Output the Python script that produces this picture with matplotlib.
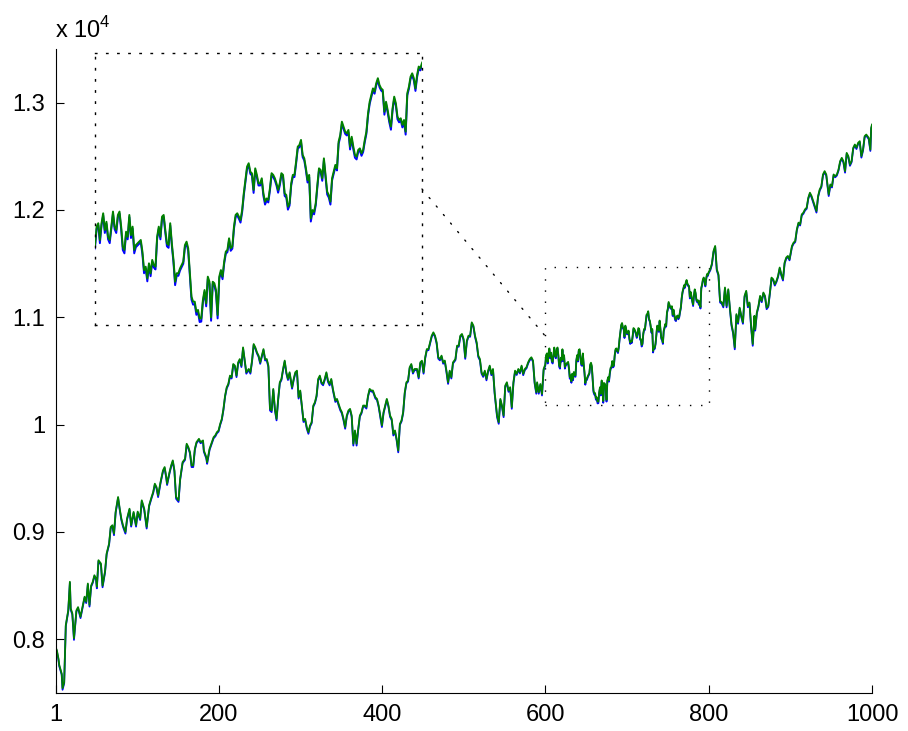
import matplotlib
matplotlib.use('Agg')
import matplotlib.pyplot as plt
from matplotlib.patches import Rectangle, ConnectionPatch
from matplotlib.ticker import FuncFormatter

plt.rcParams['font.family'] = ['Liberation Sans', 'DejaVu Sans']
plt.rcParams['mathtext.fontset'] = 'custom'
plt.rcParams['mathtext.rm'] = 'Liberation Sans'

# sample index (600..800)
t_a = [1, 2, 4, 5, 8, 9, 11, 12, 13, 16,
       18, 19, 21, 23, 26, 28, 31, 34, 36, 38,
       40, 42, 44, 46, 48, 50, 51, 53, 56, 58,
       61, 63, 66, 68, 70, 72, 74, 77, 79, 81,
       83, 86, 88, 91, 93, 96, 99, 101, 104, 106,
       109, 112, 115, 118, 120, 122, 124, 126, 129, 132,
       134, 136, 137, 140, 142, 144, 146, 148, 151, 153,
       156, 159, 161, 163, 165, 167, 169, 171, 173, 176,
       178, 181, 182, 185, 186, 189,
       194, 196, 198, 200, 202, 204, 206, 208, 210, 212,
       214, 216, 218, 220, 222, 224, 226, 228, 230, 232,
       234, 237, 239, 241, 243, 245, 247, 249, 251, 253,
       255, 257, 259, 261, 263, 265, 267, 269, 271, 273,
       275, 277, 279, 281, 283, 285, 287, 290, 292, 294,
       296, 298, 300, 302, 304, 306, 308, 310, 312, 314,
       316, 318, 320, 322, 324, 326, 328, 330, 332, 334,
       336, 338, 340, 343, 345, 347, 349, 351, 353, 355,
       357, 359, 361, 363, 365, 367, 369, 371,
       373, 375, 377, 379, 381, 383, 385, 387, 389, 392,
       394, 396, 398, 400, 402, 404, 406, 408, 410, 412,
       414, 416, 418, 420, 422, 424, 426, 428, 430, 432,
       434, 436, 438, 440, 443, 445, 447, 449, 451, 453,
       455, 457, 459, 461, 463, 465, 467, 469, 471, 473,
       475, 477, 479, 481, 483, 485, 487, 490, 492, 494,
       496, 498, 500, 502, 504, 506, 508, 510, 512, 514,
       516, 518, 520, 522, 524, 526, 528, 530, 532, 534,
       536, 538, 541, 543, 545, 547, 549, 551, 553, 555,
       557, 559, 561, 563, 565, 567, 569, 571, 573, 575,
       577, 579, 581, 583, 585, 587, 589, 590, 592, 594,
       596, 598]
t_b = list(range(600, 801))
t_c = [802, 804, 806, 808, 810, 812, 814, 816, 818, 820,
       822, 824, 826, 828, 830, 832, 834, 836, 838, 840,
       842, 844, 846, 848, 850, 852, 854, 856, 857, 859,
       861, 863, 865, 867, 869, 871, 873, 875, 877, 879,
       881, 883, 885, 887, 889, 891, 893, 895, 897, 899,
       902, 904, 906, 908, 910, 912, 914, 916, 918, 920,
       922, 924, 926, 928, 930, 932, 934, 936, 938, 940,
       942, 944, 947, 949, 951, 953, 955, 957, 959, 961,
       963, 965, 967, 969, 971, 973, 975, 977, 979, 981,
       983, 985, 987, 989, 991, 993, 996, 998, 999, 1000]

green_a = [7916, 7900, 7820, 7760, 7680, 7545, 7600, 7850, 8133, 8270,
           8536, 8288, 8242, 8010, 8270, 8300, 8211, 8320, 8397, 8350,
           8520, 8320, 8500, 8536, 8597, 8567, 8490, 8737, 8706, 8500,
           8632, 8800, 8892, 9047, 9063, 8985, 9187, 9326, 9217, 9125,
           9063, 9000, 9125, 9217, 9063, 9187, 9063, 9190, 9125, 9295,
           9217, 9047, 9249, 9326, 9373, 9450, 9419, 9340, 9466, 9574,
           9605, 9512, 9450, 9558, 9620, 9667, 9574, 9326, 9295, 9496,
           9651, 9682, 9822, 9791, 9744, 9620, 9620, 9775, 9837, 9868,
           9837, 9853, 9760, 9698, 9650, 9775,
           9884, 9900, 9930, 9945, 10007, 10054, 10147, 10270, 10348, 10380,
           10457, 10442, 10565, 10550, 10457, 10580, 10611, 10550, 10720, 10600,
           10488, 10519, 10488, 10597, 10751, 10720, 10674, 10643, 10580, 10643,
           10704, 10611, 10611, 10550, 10147, 10132, 10333, 10147, 10054, 10240,
           10395, 10426, 10519, 10597, 10488, 10426, 10488, 10348, 10426, 10488,
           10503, 10256, 10318, 10178, 10039, 10054, 9977, 9930, 9992, 10023,
           10178, 10209, 10271, 10426, 10457, 10395, 10379, 10426, 10488, 10410,
           10379, 10426, 10333, 10225, 10240, 10193, 10147, 10116, 10054, 9977,
           10085, 10132, 10147, 10085, 9822, 9946, 9822, 9961,
           10085, 10115, 10178, 10178, 10163, 10270, 10333, 10318, 10318, 10256,
           10240, 10178, 10085, 9993, 10116, 10178, 10240, 10178, 10085, 10054,
           9914, 9946, 9868, 9759, 10007, 10039, 10116, 10302, 10395, 10411,
           10535, 10565, 10488, 10519, 10519, 10442, 10580, 10596, 10488, 10628,
           10704, 10704, 10767, 10829, 10860, 10829, 10767, 10628, 10611, 10643,
           10580, 10597, 10503, 10395, 10503, 10442, 10580, 10611, 10736, 10736,
           10829, 10845, 10798, 10628, 10783, 10829, 10829, 10953, 10922, 10829,
           10767, 10643, 10611, 10488, 10457, 10503, 10426, 10503, 10550, 10473,
           10519, 10302, 10085, 10023, 10240, 10178, 10085, 10364, 10395, 10318,
           10349, 10163, 10395, 10503, 10473, 10519, 10488, 10550, 10473, 10519,
           10535, 10580, 10611, 10628, 10597, 10395, 10302, 10395, 10302, 10379,
           10286, 10519]
green_b = [10561, 10648, 10664, 10585, 10664, 10711, 10632, 10671, 10600, 10585,
           10648, 10719, 10648, 10632, 10703, 10719, 10648, 10553, 10538, 10624,
           10600, 10703, 10608, 10648, 10538, 10561, 10569, 10577, 10585, 10530,
           10443, 10459, 10404, 10475, 10428, 10491, 10467, 10459, 10600, 10648,
           10600, 10695, 10703, 10632, 10569, 10561, 10664, 10569, 10491, 10388,
           10428, 10428, 10451, 10467, 10483, 10561, 10577, 10546, 10428, 10318,
           10294, 10294, 10247, 10255, 10215, 10215, 10302, 10349, 10286, 10412,
           10388, 10220, 10388, 10381, 10349, 10231, 10412, 10443, 10412, 10483,
           10530, 10538, 10593, 10546, 10554, 10648, 10703, 10711, 10695, 10679,
           10726, 10805, 10868, 10931, 10947, 10907, 10899, 10821, 10923, 10892,
           10852, 10852, 10876, 10805, 10766, 10781, 10774, 10829, 10900, 10892,
           10876, 10852, 10821, 10852, 10900, 10892, 10805, 10797, 10742, 10758,
           10852, 10892, 10892, 10955, 11025, 11033, 11057, 10986, 10970, 10923,
           10868, 10892, 10687, 10726, 10718, 10758, 10844, 10923, 10915, 10876,
           10970, 10892, 10813, 10797, 10766, 10876, 10907, 10939, 10923, 11049,
           11080, 11143, 11120, 11096, 11088, 11104, 11025, 11072, 11025, 10986,
           10978, 11010, 11017, 10994, 11010, 11057, 11096, 11182, 11237, 11269,
           11300, 11285, 11324, 11348, 11316, 11300, 11293, 11190, 11237, 11198,
           11151, 11120, 11206, 11261, 11230, 11167, 11151, 11159, 11128, 11151,
           11096, 11277, 11308, 11355, 11371, 11348, 11300, 11363, 11403, 11395,
           11420]
green_c = [11448, 11500, 11618, 11665, 11448, 11400, 11153, 11140, 11107, 11278,
           11107, 11262, 11090, 10937, 10860, 10720, 11030, 10953, 11090, 11014,
           10953, 11200, 11247, 11107, 11138, 10922, 10751, 11014, 10890, 11045,
           11107, 11200, 11153, 11231, 11200, 11090, 11107, 11231, 11370, 11355,
           11308, 11339, 11386, 11464, 11401, 11355, 11510, 11557, 11572, 11541,
           11665, 11696, 11711, 11820, 11882, 11866, 11959, 11975, 12006, 12021,
           12114, 12161, 12130, 12083, 12037, 11990, 12130, 12192, 12222, 12331,
           12362, 12331, 12145, 12238, 12222, 12331, 12315, 12331, 12377, 12455,
           12486, 12455, 12362, 12532, 12502, 12424, 12455, 12579, 12610, 12580,
           12626, 12641, 12502, 12563, 12688, 12703, 12672, 12563, 12765, 12796]

blue_a = [7906, 7890, 7810, 7750, 7670, 7530, 7590, 7840, 8123, 8260,
          8526, 8275, 8230, 7995, 8260, 8290, 8198, 8310, 8387, 8338,
          8510, 8305, 8490, 8526, 8587, 8557, 8475, 8727, 8696, 8485,
          8622, 8790, 8882, 9037, 9053, 8970, 9177, 9316, 9207, 9112,
          9050, 8985, 9115, 9207, 9050, 9177, 9050, 9180, 9112, 9285,
          9205, 9032, 9239, 9316, 9363, 9440, 9409, 9325, 9456, 9564,
          9595, 9500, 9438, 9548, 9610, 9657, 9562, 9310, 9280, 9486,
          9641, 9672, 9812, 9781, 9732, 9605, 9605, 9765, 9827, 9858,
          9827, 9843, 9748, 9685, 9635, 9765,
          9874, 9890, 9920, 9935, 9997, 10044, 10137, 10260, 10338, 10370,
          10447, 10430, 10555, 10540, 10443, 10570, 10601, 10537, 10710, 10590,
          10475, 10509, 10475, 10587, 10741, 10710, 10664, 10633, 10567, 10633,
          10694, 10598, 10601, 10537, 10132, 10117, 10323, 10134, 10040, 10230,
          10385, 10416, 10509, 10587, 10476, 10416, 10478, 10335, 10416, 10478,
          10493, 10243, 10308, 10165, 10025, 10044, 9964, 9915, 9982, 10013,
          10168, 10199, 10261, 10416, 10447, 10383, 10367, 10416, 10478, 10398,
          10366, 10416, 10321, 10212, 10230, 10180, 10134, 10104, 10041, 9962,
          10075, 10122, 10137, 10072, 9805, 9936, 9805, 9951,
          10075, 10105, 10168, 10168, 10150, 10260, 10323, 10308, 10308, 10244,
          10230, 10166, 10072, 9978, 10106, 10168, 10230, 10166, 10072, 10041,
          9899, 9936, 9855, 9742, 9997, 10029, 10106, 10292, 10385, 10401,
          10525, 10555, 10476, 10509, 10507, 10430, 10570, 10586, 10475, 10618,
          10694, 10694, 10757, 10819, 10850, 10819, 10755, 10615, 10599, 10633,
          10568, 10587, 10490, 10380, 10493, 10430, 10570, 10601, 10726, 10726,
          10819, 10835, 10788, 10613, 10773, 10819, 10819, 10943, 10912, 10817,
          10755, 10630, 10599, 10475, 10445, 10493, 10413, 10493, 10540, 10461,
          10509, 10290, 10070, 10008, 10230, 10166, 10070, 10354, 10385, 10306,
          10339, 10148, 10385, 10493, 10463, 10509, 10477, 10540, 10461, 10509,
          10525, 10570, 10601, 10618, 10585, 10383, 10288, 10385, 10288, 10369,
          10272, 10509]
blue_b = [10548, 10638, 10654, 10570, 10654, 10701, 10618, 10661, 10588, 10570,
          10638, 10709, 10636, 10618, 10693, 10709, 10636, 10538, 10522, 10614,
          10588, 10693, 10594, 10638, 10522, 10551, 10559, 10567, 10575, 10517,
          10428, 10449, 10390, 10465, 10414, 10481, 10455, 10446, 10590, 10638,
          10588, 10685, 10693, 10620, 10555, 10548, 10654, 10557, 10478, 10372,
          10418, 10416, 10441, 10457, 10473, 10551, 10567, 10533, 10415, 10304,
          10280, 10282, 10232, 10243, 10198, 10200, 10292, 10339, 10272, 10402,
          10378, 10204, 10378, 10371, 10336, 10215, 10402, 10433, 10400, 10473,
          10520, 10528, 10583, 10534, 10544, 10638, 10693, 10701, 10685, 10667,
          10716, 10795, 10858, 10921, 10937, 10897, 10889, 10807, 10913, 10882,
          10842, 10842, 10866, 10793, 10752, 10771, 10762, 10819, 10890, 10882,
          10866, 10842, 10808, 10842, 10890, 10882, 10793, 10785, 10728, 10748,
          10842, 10882, 10882, 10945, 11015, 11023, 11047, 10976, 10960, 10913,
          10856, 10882, 10672, 10716, 10706, 10748, 10834, 10913, 10905, 10864,
          10960, 10882, 10800, 10785, 10752, 10866, 10897, 10929, 10913, 11039,
          11070, 11133, 11110, 11086, 11078, 11094, 11012, 11062, 11012, 10973,
          10965, 11000, 11007, 10982, 11000, 11047, 11086, 11172, 11227, 11259,
          11290, 11275, 11314, 11338, 11306, 11290, 11283, 11176, 11227, 11186,
          11140, 11105, 11196, 11251, 11220, 11155, 11140, 11149, 11116, 11141,
          11082, 11267, 11298, 11345, 11361, 11338, 11288, 11353, 11393, 11385,
          11410]
blue_c = [11438, 11490, 11608, 11655, 11436, 11390, 11138, 11128, 11093, 11268,
          11093, 11252, 11078, 10922, 10848, 10702, 11020, 10940, 11080, 11002,
          10940, 11190, 11237, 11094, 11128, 10907, 10735, 11004, 10876, 11035,
          11097, 11190, 11141, 11221, 11190, 11076, 11097, 11221, 11360, 11345,
          11296, 11329, 11376, 11454, 11389, 11343, 11500, 11547, 11562, 11531,
          11655, 11686, 11701, 11810, 11872, 11856, 11949, 11965, 11996, 12011,
          12104, 12151, 12118, 12071, 12025, 11976, 12120, 12182, 12212, 12321,
          12352, 12319, 12130, 12228, 12210, 12321, 12305, 12321, 12367, 12445,
          12476, 12443, 12348, 12522, 12492, 12412, 12445, 12569, 12600, 12568,
          12616, 12631, 12488, 12553, 12678, 12693, 12660, 12550, 12755, 12786]

t = t_a + t_b + t_c
green = green_a + green_b + green_c
blue = blue_a + blue_b + blue_c

xticks = [1, 200, 400, 600, 800, 1000]
yticks = [8000, 9000, 10000, 11000, 12000, 13000]
zoom_x = (600, 800)
zoom_y = (10184, 11467)

DOT = (0, (1, 7))

fig = plt.figure(figsize=(9.08, 7.31), dpi=100)
ax = fig.add_axes([56/908, 38/731, 816/908, 644/731])
ax.plot(t, blue, color='#0000ff', lw=1.3)
ax.plot(t, green, color='#008000', lw=1.3)
ax.set_xlim(1, 1000)
ax.set_ylim(7500, 13500)
ax.set_xticks(xticks)
ax.set_yticks(yticks)
ax.yaxis.set_major_formatter(FuncFormatter(lambda v, p: '%g' % (v / 1e4)))
ax.spines['top'].set_visible(False)
ax.spines['right'].set_visible(False)
ax.tick_params(direction='in', length=6, width=0.8, labelsize=17, pad=8)

# zoom window
ax.add_patch(Rectangle((zoom_x[0], zoom_y[0]), zoom_x[1] - zoom_x[0], zoom_y[1] - zoom_y[0],
                       fill=False, ec='k', lw=1, ls=DOT))

fig.text(55/908, 1 - 38/731, r'x 10$^{4}$', fontsize=17, va='baseline', ha='left')

# magnified inset
ins = fig.add_axes([95/908, (731 - 325)/731, 327/908, 272/731])
ins.plot(t, blue, color='#0000ff', lw=1.4)
ins.plot(t, green, color='#008000', lw=1.4)
ins.set_xlim(*zoom_x)
ins.set_ylim(*zoom_y)
ins.set_xticks([])
ins.set_yticks([])
for s in ins.spines.values():
    s.set_linestyle(DOT)
    s.set_linewidth(1)

con = ConnectionPatch(xyA=(1, 0.5), coordsA=ins.transAxes,
                      xyB=(zoom_x[0], (zoom_y[0] + zoom_y[1]) / 2), coordsB=ax.transData,
                      color='k', lw=1, ls=DOT)
fig.add_artist(con)

fig.savefig('out.png', dpi=100)
